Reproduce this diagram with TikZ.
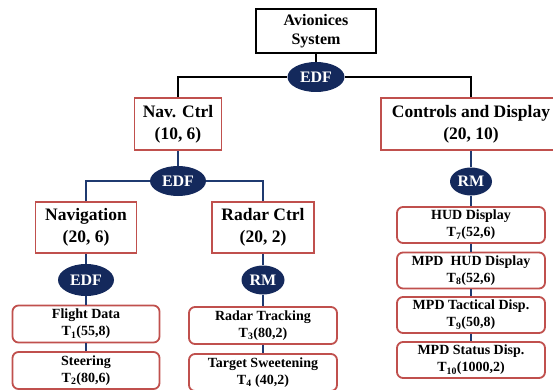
\documentclass[tikz,border=0pt]{standalone}
\usepackage{fontspec}
\setmainfont{Liberation Serif}
\usetikzlibrary{shapes.geometric}
\definecolor{redb}{HTML}{C0504D}
\definecolor{navy}{HTML}{14295C}
\definecolor{navyl}{HTML}{1F3A70}
\begin{document}
\begin{tikzpicture}[x=1pt,y=-1pt,
  topbox/.style={draw=black,line width=2.2pt,fill=white,minimum width=120pt,minimum height=44pt,inner sep=0pt,align=center,font=\fontsize{16}{19}\selectfont\bfseries},
  midbox/.style={draw=redb,line width=1.8pt,fill=white,minimum height=52pt,inner sep=0pt,align=center,font=\fontsize{17.5}{22}\selectfont\bfseries},
  leaf/.style={draw=redb,line width=1.8pt,fill=white,rounded corners=6pt,minimum width=147pt,minimum height=37pt,inner sep=0pt,align=center,font=\fontsize{14}{17}\selectfont\bfseries},
  sched/.style={ellipse,fill=navy,text=white,inner sep=0pt,minimum height=30pt,font=\fontsize{16}{16}\selectfont\bfseries},
  blk/.style={line width=2pt,draw=black},
  blu/.style={line width=2pt,draw=navyl}]
\useasboundingbox (0,0) rectangle (553,390);

% nodes
\node[topbox] (avi) at (316,31) {Avionices\\System};
\node[sched,minimum width=57pt] (edfa) at (316,77) {EDF};
\node[midbox,minimum width=87pt] (navc) at (178,124) {Nav. Ctrl\\(10, 6)};
\node[midbox,minimum width=180pt] (ctrl) at (471,124) {Controls and Display\\(20, 10)};
\node[sched,minimum width=56pt] (edfb) at (178,181) {EDF};
\node[midbox,minimum width=101pt,minimum height=51pt] (navi) at (86,227.5) {Navigation\\(20, 6)};
\node[midbox,minimum width=102pt,minimum height=51pt] (radc) at (263,227.5) {Radar Ctrl\\(20, 2)};
\node[sched,minimum width=56pt,minimum height=32pt] (edfc) at (86,280) {EDF};
\node[sched,minimum width=43pt,minimum height=29pt] (rma) at (263,280) {RM};
\node[sched,minimum width=42pt,minimum height=28pt] (rmb) at (471,181.5) {RM};
\node[leaf] (fd) at (86,324) {Flight Data\\T\textsubscript{1}(55,8)};
\node[leaf] (st) at (86,370.5) {Steering\\T\textsubscript{2}(80,6)};
\node[leaf,minimum width=148pt] (rt) at (263,325.5) {Radar Tracking\\T\textsubscript{3}(80,2)};
\node[leaf,minimum width=148pt] (ts) at (263,372.5) {Target Sweetening\\T\textsubscript{4} (40,2)};
\node[leaf,minimum width=148pt,minimum height=36pt] (hud) at (471,225) {HUD Display\\T\textsubscript{7}(52,6)};
\node[leaf,minimum width=148pt,minimum height=36pt] (mhud) at (471,270.5) {MPD\ \ HUD Display\\T\textsubscript{8}(52,6)};
\node[leaf,minimum width=148pt,minimum height=36pt] (mtac) at (471,315) {MPD Tactical Disp.\\T\textsubscript{9}(50,8)};
\node[leaf,minimum width=148pt,minimum height=36pt] (msta) at (471,360) {MPD Status Disp.\\T\textsubscript{10}(1000,2)};

% connectors
\draw[blk] (avi) -- (edfa);
\draw[blk] (navc.north) |- (edfa.west);
\draw[blk] (ctrl.north) |- (edfa.east);
\draw[blu] (navc) -- (edfb);
\draw[blu] (navi.north) |- (edfb.west);
\draw[blu] (radc.north) |- (edfb.east);
\draw[blu] (navi) -- (edfc);
\draw[blu] (edfc) -- (fd);
\draw[blu] (fd) -- (st);
\draw[blu] (radc) -- (rma);
\draw[blu] (rma) -- (rt);
\draw[blu] (rt) -- (ts);
\draw[blu] (ctrl) -- (rmb);
\draw[blu] (rmb) -- (hud);
\draw[blu] (hud) -- (mhud);
\draw[blu] (mhud) -- (mtac);
\draw[blu] (mtac) -- (msta);
\end{tikzpicture}
\end{document}
